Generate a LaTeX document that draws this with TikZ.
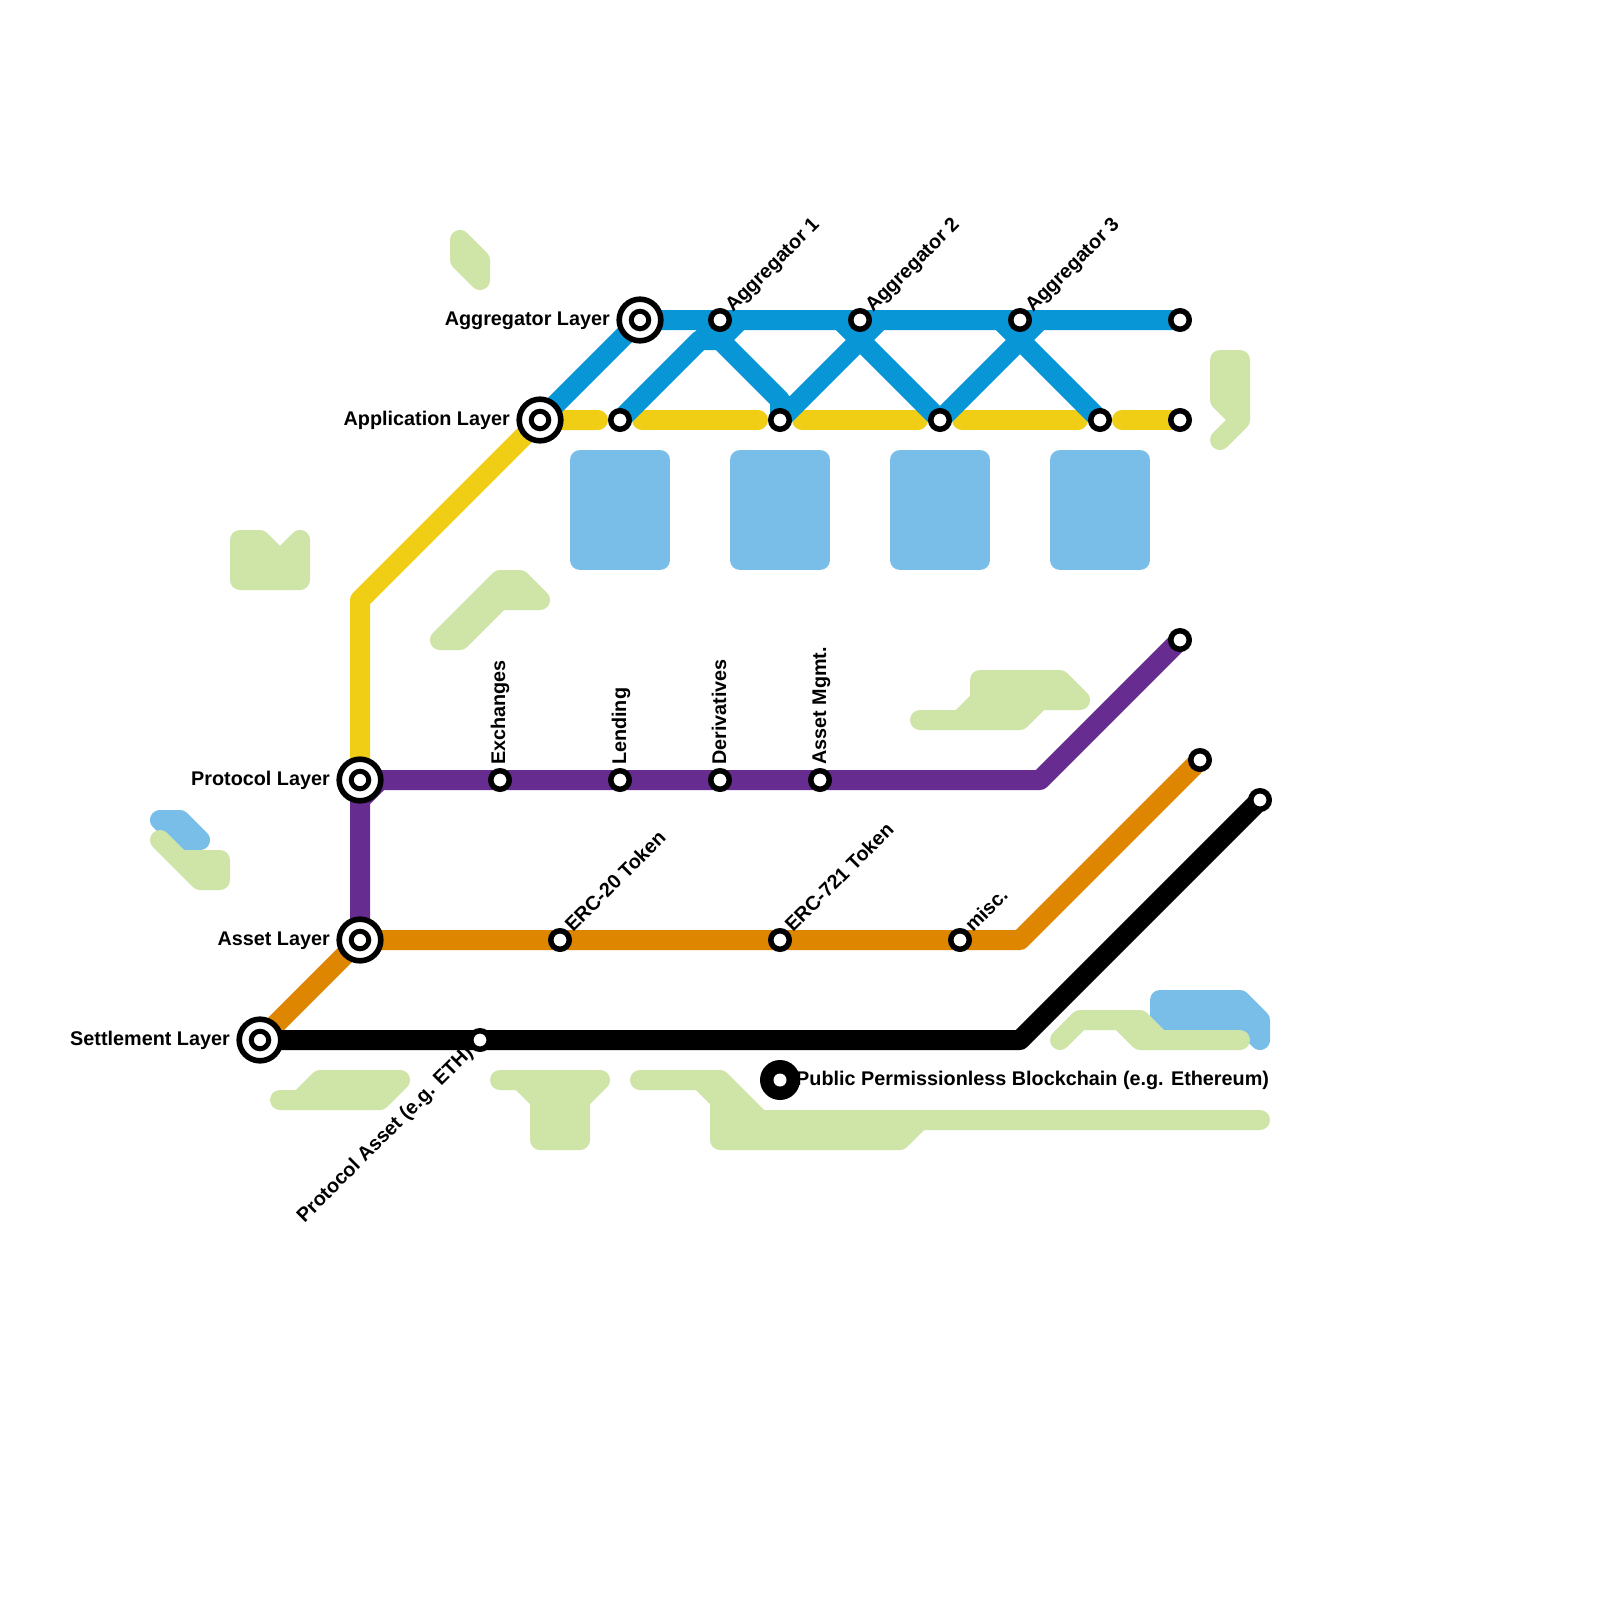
\documentclass[tikz,border=0pt]{standalone}
\usepackage{fontspec}
\setmainfont{Liberation Sans}
\usetikzlibrary{backgrounds}
\definecolor{aggblue}{HTML}{0896D7}
\definecolor{appyellow}{HTML}{F0CE15}
\definecolor{protpurple}{HTML}{662C90}
\definecolor{assetorange}{HTML}{DF8600}
\definecolor{waterblue}{HTML}{79BDE9}
\definecolor{parkgreen}{HTML}{CFE4A7}
\begin{document}
\begin{tikzpicture}[x=1pt,y=-1pt,
    metro/.style={draw=#1,line width=20,line cap=round,line join=round},
    park/.style={draw=parkgreen,fill=parkgreen,line width=20,line cap=round,line join=round},
    water/.style={draw=waterblue,fill=waterblue,line width=20,line cap=round,line join=round},
    stop/.style={circle,draw=black,fill=white,line width=5.5,minimum size=18.5,inner sep=0},
    layerstop/.style={circle,draw=black,fill=white,line width=5.6,minimum size=41.6,inner sep=0,
      label={[circle,draw=black,fill=white,line width=5,minimum size=17.5,inner sep=0]center:}},
    lbl/.style={font=\fontsize{19.8}{24}\selectfont\bfseries,inner sep=0,anchor=base east},
    tilted/.style={font=\fontsize{19.8}{24}\selectfont\bfseries,inner sep=0,anchor=base west,rotate=45},
    upright/.style={font=\fontsize{19.8}{24}\selectfont\bfseries,inner sep=0,anchor=base west,rotate=90}]
      \useasboundingbox (0,0) rectangle (1600,1600);
      \node[layerstop] (agg) at (640,320) {};
      \node[layerstop] (app) at (540,420) {};
      \node[layerstop] (prot) at (360,780) {};
      \node[layerstop] (asset) at (360,940) {};
      \node[layerstop] (settle) at (260,1040) {};
      \node[stop] (agg1) at (720,320) {};
      \node[stop] (agg2) at (860,320) {};
      \node[stop] (agg3) at (1020,320) {};
      \node[stop] (aggend) at (1180,320) {};
      \node[stop] (app1) at (620,420) {};
      \node[stop] (app2) at (780,420) {};
      \node[stop] (app3) at (940,420) {};
      \node[stop] (app4) at (1100,420) {};
      \node[stop] (append) at (1180,420) {};
      \node[stop] (exch) at (500,780) {};
      \node[stop] (lend) at (620,780) {};
      \node[stop] (deriv) at (720,780) {};
      \node[stop] (mgmt) at (820,780) {};
      \node[stop] (protend) at (1180,640) {};
      \node[stop] (erc20) at (560,940) {};
      \node[stop] (erc721) at (780,940) {};
      \node[stop] (misc) at (960,940) {};
      \node[stop] (assetend) at (1200,760) {};
      \node[stop] (eth) at (480,1040) {};
      \node[stop] (settleend) at (1260,800) {};
      \node[circle,fill=black,minimum size=40,inner sep=0] (chain) at (780,1080) {};
      \node[circle,fill=white,minimum size=13,inner sep=0] (chainhole) at (780,1080) {};
      \node[lbl] (agglab) at (610,325) {Aggregator Layer};
      \node[lbl] (applab) at (510,425) {Application Layer};
      \node[lbl] (protlab) at (330,785) {Protocol Layer};
      \node[lbl] (assetlab) at (330,945) {Asset Layer};
      \node[lbl] (settlelab) at (230,1045) {Settlement Layer};
      \node[tilted] (agg1lab) at (733,313) {Aggregator 1};
      \node[tilted] (agg2lab) at (873,313) {Aggregator 2};
      \node[tilted] (agg3lab) at (1033,313) {Aggregator 3};
      \node[upright] (exchlab) at (505,765) {Exchanges};
      \node[upright] (lendlab) at (626,765) {Lending};
      \node[upright] (derivlab) at (726,765) {Derivatives};
      \node[upright] (mgmtlab) at (826,765) {Asset Mgmt.};
      \node[tilted] (erc20lab) at (573,933) {ERC-20 Token};
      \node[tilted] (erc721lab) at (793,933) {ERC-721 Token};
      \node[tilted] (misclab) at (973,933) {misc.};
      \node[tilted,anchor=base east] (ethlab) at (474,1054) {Protocol Asset (e.g. ETH)};
      \node[lbl,anchor=base west] (chainlab) at (796,1085) {Public Permissionless Blockchain (e.g. Ethereum)};
      \coordinate (ybend1) at (360,600);
      \coordinate (yend1) at (598,420);
      \coordinate (ystart2) at (642,420);
      \coordinate (yend2) at (758,420);
      \coordinate (ystart3) at (802,420);
      \coordinate (yend3) at (918,420);
      \coordinate (ystart4) at (962,420);
      \coordinate (yend4) at (1078,420);
      \coordinate (ystart5) at (1122,420);
      \coordinate (bjoin1) at (700,340);
      \coordinate (bjoin2) at (720,340);
      \coordinate (btop1) at (700,320);
      \coordinate (bfoot) at (780,400);
      \coordinate (btop2) at (740,320);
      \coordinate (btop3) at (880,320);
      \coordinate (btop4) at (840,320);
      \coordinate (btop5) at (1040,320);
      \coordinate (btop6) at (1000,320);
      \coordinate (pbend1) at (360,800);
      \coordinate (pbend2) at (380,780);
      \coordinate (pbend3) at (1040,780);
      \coordinate (obend) at (1020,940);
      \coordinate (kbend) at (1020,1040);
      \begin{scope}[on background layer]
      \draw[water] (580,460) rectangle (660,560);
      \draw[water] (740,460) rectangle (820,560);
      \draw[water] (900,460) rectangle (980,560);
      \draw[water] (1060,460) rectangle (1140,560);
      \draw[water] (160,820)--(180,820)--(200,840)--(180,840)--cycle;
      \draw[water] (1160,1000)--(1240,1000)--(1260,1020)--(1260,1040)--(1240,1020)--(1160,1020)--cycle;
      \draw[park] (460,240)--(480,260)--(480,280)--(460,260)--cycle;
      \draw[park] (240,540)--(260,540)--(280,560)--(300,540)--(300,580)--(240,580)--cycle;
      \draw[park] (1220,360)--(1240,360)--(1240,420)--(1220,440)--(1240,420)--(1220,400)--cycle;
      \draw[park] (500,580)--(520,580)--(540,600)--(500,600)--(460,640)--(440,640)--cycle;
      \draw[park] (980,680)--(1060,680)--(1080,700)--(1040,700)--(1020,720)--(920,720)--(960,720)--(980,700)--cycle;
      \draw[park] (160,840)--(180,860)--(220,860)--(220,880)--(200,880)--cycle;
      \draw[park] (320,1080)--(400,1080)--(380,1100)--(280,1100)--(300,1100)--cycle;
      \draw[park] (500,1080)--(600,1080)--(580,1100)--(580,1140)--(540,1140)--(540,1100)--(520,1080)--cycle;
      \draw[park] (640,1080)--(720,1080)--(760,1120)--(1260,1120)--(920,1120)--(900,1140)--(720,1140)--(720,1100)--(700,1080)--cycle;
      \draw[park] (1060,1040)--(1080,1020)--(1140,1020)--(1160,1040)--(1240,1040)--(1140,1040)--(1120,1020)--(1080,1020)--cycle;
      \draw[metro=appyellow] (prot.center)--(ybend1)--(app.center)--(yend1);
      \draw[metro=appyellow] (ystart2)--(yend2);
      \draw[metro=appyellow] (ystart3)--(yend3);
      \draw[metro=appyellow] (ystart4)--(yend4);
      \draw[metro=appyellow] (ystart5)--(append.center);
      \draw[metro=aggblue] (app.center)--(agg.center)--(aggend.center);
      \draw[metro=aggblue] (app1.center)--(bjoin1)--(bjoin2)--(btop2);
      \draw[metro=aggblue] (btop1)--(bfoot)--(app2.center)--(btop3);
      \draw[metro=aggblue] (btop4)--(app3.center)--(btop5);
      \draw[metro=aggblue] (btop6)--(app4.center);
      \draw[metro=protpurple] (asset.center)--(pbend1)--(pbend2);
      \draw[metro=protpurple] (prot.center)--(pbend3)--(protend.center);
      \draw[metro=assetorange] (settle.center)--(asset.center)--(obend)--(assetend.center);
      \draw[metro=black] (settle.center)--(kbend)--(settleend.center);
      \end{scope}
    \end{tikzpicture}
\end{document}
